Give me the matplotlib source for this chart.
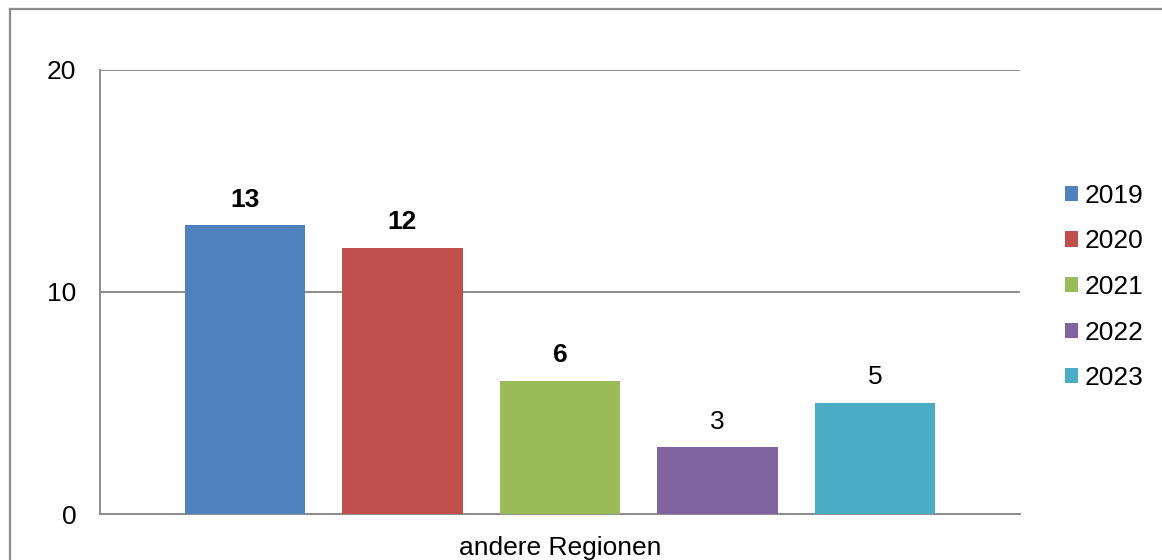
import matplotlib
matplotlib.use('Agg')
import matplotlib.pyplot as plt
from matplotlib.lines import Line2D

plt.rcParams['font.family'] = ['Liberation Sans', 'DejaVu Sans']

category = 'andere Regionen'
years = ['2019', '2020', '2021', '2022', '2023']
values = [13, 12, 6, 3, 5]
bold_labels = [True, True, True, False, False]
colors = ['#4F81BD', '#C0504D', '#9BBB59', '#8064A2', '#4BACC6']

W, H = 1162, 560
fs = 19
fig = plt.figure(figsize=(W / 100, H / 100), dpi=100)
ax = fig.add_axes([100 / W, 1 - 514 / H, 920 / W, 444 / H])

# outer chart frame (only top and left visible in the crop)
fig.add_artist(Line2D([10 / W, 10 / W], [0, 1 - 9 / H], transform=fig.transFigure,
                      color='#8c8c8c', lw=1.6))
fig.add_artist(Line2D([10 / W, 1.0], [1 - 9 / H, 1 - 9 / H], transform=fig.transFigure,
                      color='#8c8c8c', lw=1.6))

step = 0.1712
width = 0.1315
offsets = [(i - 2) * step for i in range(len(years))]
bars = []
for off, v, c, y, b in zip(offsets, values, colors, years, bold_labels):
    bar = ax.bar(off, v, width=width, color=c, label=y, zorder=3)
    bars.append(bar)
    ax.text(off, v + 1.15, str(v), ha='center', va='center', fontsize=fs,
            fontweight='bold' if b else 'normal')

ax.set_xlim(-0.5, 0.5)
ax.set_ylim(0, 20)
ax.set_yticks([0, 10, 20])
ax.set_xticks([0])
ax.set_xticklabels([category])
ax.tick_params(axis='both', length=0, labelsize=fs)
ax.tick_params(axis='y', pad=17)
ax.tick_params(axis='x', pad=16)
ax.yaxis.grid(True, color='#8c8c8c', lw=1.4, zorder=0)
for s in ['top', 'right']:
    ax.spines[s].set_visible(False)
for s in ['left', 'bottom']:
    ax.spines[s].set_color('#8c8c8c')
    ax.spines[s].set_linewidth(1.4)

fig.legend(handles=[b[0] for b in bars], labels=years, loc='center left',
           bbox_to_anchor=(1065 / W, 1 - 287 / H), frameon=False, fontsize=fs,
           handlelength=0.5, handleheight=0.5, handletextpad=0.25, labelspacing=0.82,
           borderpad=0, borderaxespad=0)

fig.savefig('out.png', dpi=100)
